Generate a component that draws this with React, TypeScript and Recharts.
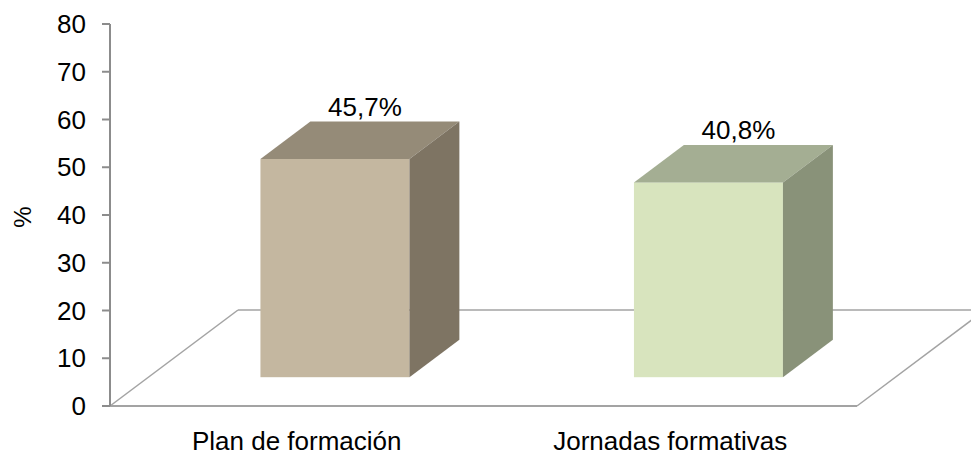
import React from 'react';
import { BarChart, Bar, XAxis, YAxis, ReferenceArea } from 'recharts';

const categories = ['Plan de formación', 'Jornadas formativas'];
const percentages = [45.7, 40.8];
const percentLabels = ['45,7%', '40,8%'];
const yTicks = [0, 10, 20, 30, 40, 50, 60, 70, 80];

const data = categories.map((name, i) => ({
  name,
  value: percentages[i],
  label: percentLabels[i],
}));

const FONT = '"Liberation Sans", Arial, sans-serif';
// 3D look: depth of the floor and where the boxes sit inside it
const FLOOR_DX = 128;
const FLOOR_DY = 96;
const BAR_FRONT = 0.3;
const BAR_DEPTH = 0.39;
const AXIS_GREY = '#8c8c8c';
const FLOOR_GREY = '#a3a3a3';

const faces = [
  { front: '#C4B7A0', top: '#958B78', side: '#7E7463' },
  { front: '#D8E4BE', top: '#A4AE93', side: '#899279' },
];

const Floor = (props: any) => {
  const { x, y, width, height } = props;
  const bottom = y + height;
  const backY = bottom - FLOOR_DY;
  return (
    <g fill="none" stroke={FLOOR_GREY} strokeWidth={1.5}>
      <line x1={x} y1={bottom} x2={x + width} y2={bottom} strokeWidth={2} />
      <line x1={x} y1={bottom} x2={x + FLOOR_DX} y2={backY} />
      <line x1={x + FLOOR_DX} y1={backY} x2={x + width + FLOOR_DX} y2={backY} />
      <line x1={x + width} y1={bottom} x2={x + width + FLOOR_DX} y2={backY} />
    </g>
  );
};

const Box = (props: any) => {
  const { x, y, width, height, index, payload } = props;
  const c = faces[index % faces.length];
  const fx = x + FLOOR_DX * BAR_FRONT;
  const fy = y - FLOOR_DY * BAR_FRONT;
  const dx = FLOOR_DX * BAR_DEPTH;
  const dy = FLOOR_DY * BAR_DEPTH;
  const r = fx + width;
  const b = fy + height;
  return (
    <g>
      <rect x={fx} y={fy} width={width} height={height} fill={c.front} />
      <polygon
        points={`${fx},${fy} ${fx + dx},${fy - dy} ${r + dx},${fy - dy} ${r},${fy}`}
        fill={c.top}
      />
      <polygon
        points={`${r},${fy} ${r + dx},${fy - dy} ${r + dx},${b - dy} ${r},${b}`}
        fill={c.side}
      />
      <text
        x={fx + width / 2 + dx / 2 + 5}
        y={fy - dy - 6}
        textAnchor="middle"
        fontSize={26}
        fontFamily={FONT}
        fill="#000"
      >
        {payload.label}
      </text>
    </g>
  );
};

const PercentTitle = (props: any) => {
  const vb = props.viewBox || { x: 0, y: 24, width: 110, height: 382 };
  const cx = vb.x + 22;
  const cy = vb.y + vb.height / 2 + 2;
  return (
    <text
      x={cx}
      y={cy}
      transform={`rotate(-90 ${cx} ${cy})`}
      textAnchor="middle"
      dominantBaseline="central"
      fontSize={24}
      fontFamily={FONT}
      fill="#000"
    >
      %
    </text>
  );
};

export default function App() {
  return (
    <div style={{ position: 'absolute', left: 0, top: 0, background: '#fff' }}>
      <BarChart
        width={971}
        height={457}
        data={data}
        margin={{ top: 24, right: 114, bottom: 0, left: 0 }}
        barCategoryGap="30%"
      >
        <XAxis
          dataKey="name"
          height={51}
          axisLine={false}
          tickLine={false}
          tickSize={8}
          tickMargin={18}
          interval={0}
          tick={{ fill: '#000', fontSize: 26, fontFamily: FONT }}
        />
        <YAxis
          width={110}
          domain={[0, 80]}
          ticks={yTicks}
          interval={0}
          axisLine={{ stroke: AXIS_GREY, strokeWidth: 2 }}
          tickLine={{ stroke: AXIS_GREY, strokeWidth: 2 }}
          tickSize={8}
          tickMargin={16}
          tick={{ fill: '#000', fontSize: 26, fontFamily: FONT }}
          label={{ content: PercentTitle }}
        />
        <ReferenceArea y1={0} y2={80} ifOverflow="visible" shape={Floor} />
        <Bar dataKey="value" shape={Box} isAnimationActive={false} />
      </BarChart>
    </div>
  );
}
